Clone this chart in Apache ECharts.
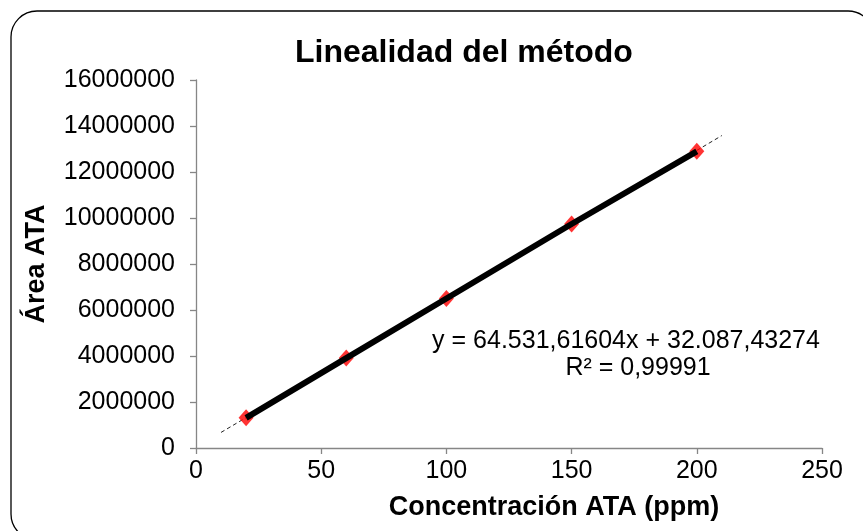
<!DOCTYPE html>
<html>
<head>
<meta charset="utf-8">
<script src="https://cdn.jsdelivr.net/npm/echarts@6/dist/echarts.min.js"></script>
<style>
  html, body { margin: 0; padding: 0; background: #fff; }
  #chart { width: 863px; height: 531px; }
</style>
</head>
<body>
<div id="chart"></div>
<script>
// Calibration data: concentration (ppm) vs. peak area
const concentrations = [20, 60, 100, 150, 200];
const areas = [1310000, 3910000, 6500000, 9740000, 12900000];

// Least-squares fit reported on the chart
const slope = 64531.61604;
const intercept = 32087.43274;
const trendRange = [10, 210];
const equationText = 'y = 64.531,61604x + 32.087,43274';
const r2Text = 'R² = 0,99991';

const xTicks = { min: 0, max: 250, interval: 50 };
const yTicks = { min: 0, max: 16000000, interval: 2000000 };

const points = concentrations.map((c, i) => [c, areas[i]]);
const trendPoints = trendRange.map(x => [x, slope * x + intercept]);

const font = '"Liberation Sans", Arial, sans-serif';
const axisGray = '#868686';

const chart = echarts.init(document.getElementById('chart'), null, { renderer: 'canvas' });
chart.setOption({
  animation: false,
  backgroundColor: '#ffffff',
  title: {
    text: 'Linealidad del método',
    left: 290,
    top: 32,
    textStyle: { fontFamily: font, fontSize: 32, fontWeight: 'bold', color: '#000' }
  },
  grid: { left: 196, right: 41, top: 80, bottom: 83, containLabel: false },
  xAxis: {
    type: 'value',
    min: xTicks.min, max: xTicks.max, interval: xTicks.interval,
    axisLine: { show: true, lineStyle: { color: axisGray, width: 1.3 } },
    axisTick: { show: true, length: 6, lineStyle: { color: axisGray, width: 1.3 } },
    axisLabel: { fontFamily: font, fontSize: 25, color: '#000', margin: 11 },
    splitLine: { show: false }
  },
  yAxis: {
    type: 'value',
    min: yTicks.min, max: yTicks.max, interval: yTicks.interval,
    name: 'Área ATA',
    nameLocation: 'middle',
    nameGap: 146,
    nameTextStyle: { fontFamily: font, fontSize: 27, fontWeight: 'bold', color: '#000' },
    axisLine: { show: true, lineStyle: { color: axisGray, width: 1.3 } },
    axisTick: { show: true, length: 6, lineStyle: { color: axisGray, width: 1.3 } },
    axisLabel: {
      fontFamily: font, fontSize: 25, color: '#000', margin: 21,
      formatter: v => String(v)
    },
    splitLine: { show: false }
  },
  graphic: [
    {
      type: 'rect',
      shape: { x: 11, y: 11, width: 863, height: 529, r: 26 },
      style: { fill: 'none', stroke: '#000', lineWidth: 1.3 },
      silent: true,
      z: 100
    },
    {
      type: 'text',
      x: 554,
      y: 508,
      style: {
        text: 'Concentración ATA (ppm)', fontFamily: font, fontSize: 27, fontWeight: 'bold',
        fill: '#000', align: 'center', verticalAlign: 'middle'
      },
      z: 100
    },
    {
      type: 'text',
      x: 626,
      y: 341,
      style: {
        text: equationText, fontFamily: font, fontSize: 25, fill: '#000',
        align: 'center', verticalAlign: 'middle'
      },
      z: 100
    },
    {
      type: 'text',
      x: 638,
      y: 368,
      style: {
        text: r2Text, fontFamily: font, fontSize: 25, fill: '#000',
        align: 'center', verticalAlign: 'middle'
      },
      z: 100
    }
  ],
  series: [
    {
      name: 'Tendencia',
      type: 'line',
      data: trendPoints,
      symbol: 'none',
      lineStyle: { color: '#222', width: 1, type: [4, 3] },
      z: 1,
      silent: true
    },
    {
      name: 'Puntos',
      type: 'scatter',
      data: points,
      symbol: 'diamond',
      symbolSize: [15, 17],
      itemStyle: { color: '#ff0000' },
      z: 2
    },
    {
      name: 'Área ATA',
      type: 'line',
      data: points,
      symbol: 'none',
      lineStyle: { color: '#000', width: 6 },
      z: 3
    }
  ]
});
</script>
</body>
</html>
